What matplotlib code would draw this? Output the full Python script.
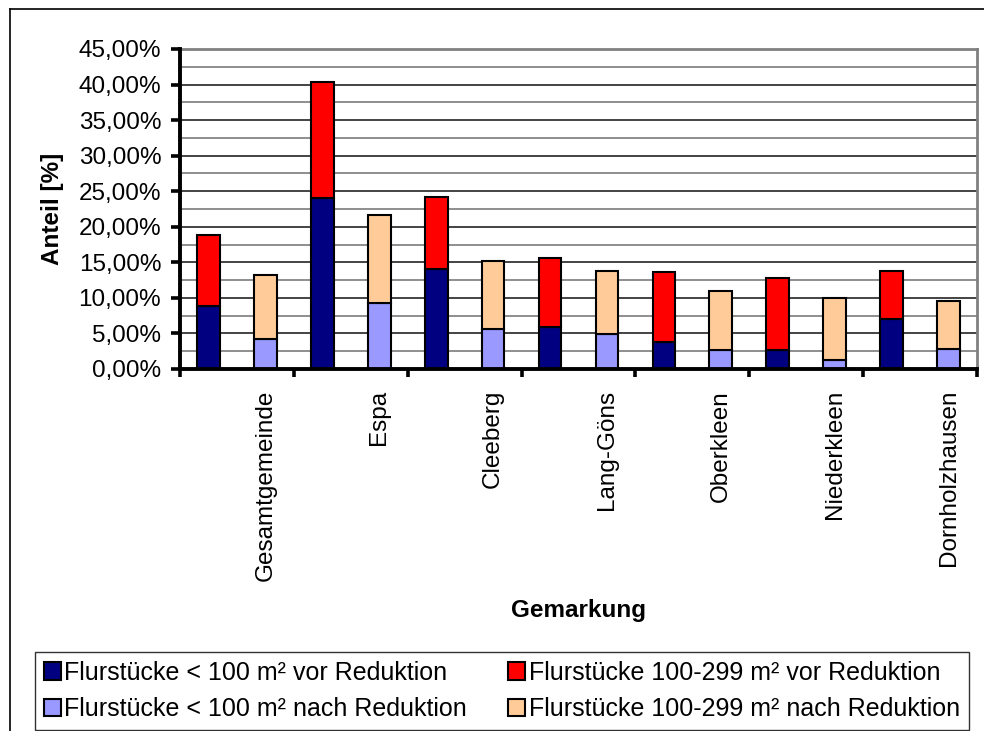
import matplotlib
matplotlib.use("Agg")
import matplotlib.pyplot as plt
from matplotlib.patches import Patch
from matplotlib.lines import Line2D
import numpy as np

# ---- data (percent) ----
gemarkungen = ["Gesamtgemeinde", "Espa", "Cleeberg", "Lang-Göns",
               "Oberkleen", "Niederkleen", "Dornholzhausen"]
klein_vor = [8.8, 24.0, 14.1, 5.9, 3.85, 2.7, 7.05]        # < 100 m² vor Reduktion
mittel_vor = [10.0, 16.4, 10.1, 9.7, 9.75, 10.15, 6.75]    # 100-299 m² vor Reduktion
klein_nach = [4.2, 9.25, 5.65, 4.9, 2.7, 1.3, 2.8]         # < 100 m² nach Reduktion
mittel_nach = [8.95, 12.35, 9.6, 8.9, 8.3, 8.7, 6.75]      # 100-299 m² nach Reduktion

series_names = ["Flurstücke < 100 m² vor Reduktion",
                "Flurstücke < 100 m² nach Reduktion",
                "Flurstücke 100-299 m² vor Reduktion",
                "Flurstücke 100-299 m² nach Reduktion"]
colors = ["#000080", "#9999FF", "#FF0000", "#FFCC99"]

plt.rcParams['font.family'] = ['Liberation Sans', 'DejaVu Sans']

fig = plt.figure(figsize=(9.84, 7.31), dpi=100)
W, H = 984, 731
ax = fig.add_axes([180 / W, 1 - 369 / H, (977 - 180) / W, (369 - 49) / H])

n = len(gemarkungen)
x_vor = np.arange(n) * 2
x_nach = np.arange(n) * 2 + 1
bw = 0.4
ek = dict(edgecolor="black", linewidth=1.5, zorder=3)
ax.bar(x_vor, klein_vor, bw, color=colors[0], **ek)
ax.bar(x_vor, mittel_vor, bw, bottom=klein_vor, color=colors[2], **ek)
ax.bar(x_nach, klein_nach, bw, color=colors[1], **ek)
ax.bar(x_nach, mittel_nach, bw, bottom=klein_nach, color=colors[3], **ek)

ax.set_xlim(-0.5, 2 * n - 0.5)
ax.set_ylim(0, 45)

# y axis
yt = np.arange(0, 45.01, 5)
ax.set_yticks(yt)
ax.set_yticklabels([f"{v:.2f}%".replace(".", ",") for v in yt], fontsize=17.5)
for yv in np.arange(2.5, 45.01, 2.5):
    ax.axhline(yv, color="#111111" if (yv % 5 == 0) else "#707070", linewidth=1.1, zorder=1)

# x axis: tick marks between pairs, labels under "nach" bars
ax.set_xticks(np.arange(-0.5, 2 * n, 2))
ax.set_xticklabels([])
ax.set_xticks(x_nach, minor=True)
ax.set_xticklabels(gemarkungen, minor=True, rotation=90, fontsize=17.5, va="top", ha="center")
ax.tick_params(axis="x", which="minor", length=0, pad=15)
ax.tick_params(axis="x", which="major", length=6, width=2.6, direction="out")
ax.tick_params(axis="y", which="major", length=6.5, width=2.6, direction="out", pad=7)

for side in ["left", "bottom"]:
    ax.spines[side].set_linewidth(2.8)
    ax.spines[side].set_color("black")
    ax.spines[side].set_zorder(5)
for side in ["top", "right"]:
    ax.spines[side].set_linewidth(2.0)
    ax.spines[side].set_color("#808080")

fig.text(52 / W, 1 - 209 / H, "Anteil [%]", fontsize=17.5, fontweight="bold",
         ha="center", va="center", rotation=90)
fig.text(578 / W, 1 - 610 / H, "Gemarkung", fontsize=17.5, fontweight="bold",
         ha="center", va="center")

# legend
handles = [Patch(facecolor=colors[i], edgecolor="black", linewidth=1.5) for i in range(4)]
leg = fig.legend(handles, series_names, ncol=2, loc="center",
                 bbox_to_anchor=(35 / W, 1 - 727 / H, (969 - 35) / W, (727 - 655) / H),
                 mode="expand", fontsize=18, frameon=True, fancybox=False,
                 edgecolor="black", handlelength=0.68, handleheight=0.68,
                 handletextpad=0.15, borderaxespad=0, labelspacing=0.5,
                 borderpad=0.35, columnspacing=1.0)
leg.get_frame().set_linewidth(1.0)

# outer chart border (partially visible)
fig.add_artist(Line2D([10 / W, 10 / W], [0, 1 - 9 / H], transform=fig.transFigure,
                      color="black", linewidth=1.2))
fig.add_artist(Line2D([10 / W, 1], [1 - 9 / H, 1 - 9 / H], transform=fig.transFigure,
                      color="black", linewidth=1.2))

fig.savefig("out.png", dpi=100, facecolor="white")
